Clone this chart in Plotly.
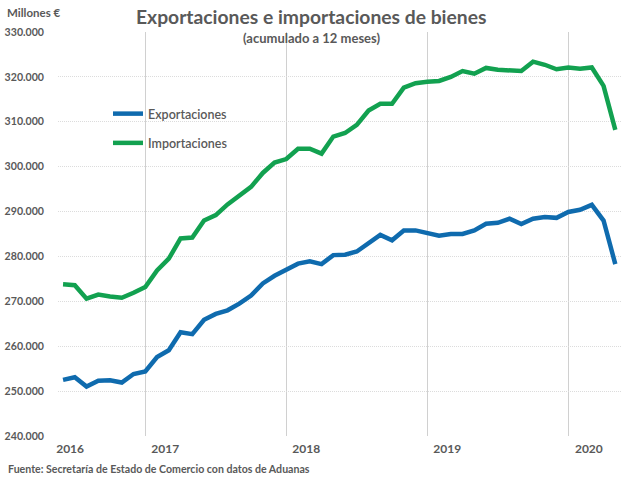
import plotly.graph_objects as go

months = list(range(48))
exportaciones = [252.5,253.1,251.0,252.3,252.4,251.9,253.8,254.4,257.6,259.1,263.1,262.7,265.9,267.2,268.0,269.5,
                 271.3,274.0,275.7,277.0,278.4,278.9,278.3,280.3,280.4,281.1,283.1,284.8,283.6,285.8,285.8,285.1,
                 284.6,285.0,285.0,285.8,287.3,287.5,288.4,287.2,288.4,288.8,288.6,289.9,290.4,291.5,288.0,278.3]
importaciones = [273.8,273.6,270.6,271.5,271.1,270.8,271.9,273.2,276.9,279.5,284.0,284.2,288.0,289.2,291.6,293.7,
                 295.5,298.6,300.9,301.7,304.0,304.0,302.9,306.7,307.5,309.3,312.5,314.0,314.0,317.6,318.6,318.9,
                 319.1,320.0,321.3,320.7,322.0,321.6,321.5,321.3,323.4,322.7,321.7,322.1,321.8,322.1,318.0,308.2]
y_ticks = [240,250,260,270,280,290,300,310,320,330]
y_labels = ["240.000","250.000","260.000","270.000","280.000","290.000","300.000","310.000","320.000","330.000"]
year_pos = [0.6,8.7,20.7,32.7,44.75]
year_labels = ["2016","2017","2018","2019","2020"]
year_bounds = [7,19,31,43]

GRAY = "#595959"
FONT = "Lato"
W, H = 640, 480
L, R, T, B = 58, 622, 32, 436
def px(xp): return (xp-L)/(R-L)
def py(yp): return 1-(yp-T)/(B-T)

fig = go.Figure()
fig.add_trace(go.Scatter(x=months, y=[v*1000 for v in exportaciones], name="Exportaciones", mode="lines",
                         legendgroup="a", line=dict(color="#0F6BAE", width=4.5)))
fig.add_trace(go.Scatter(x=months, y=[v*1000 for v in importaciones], name="Importaciones", mode="lines",
                         legendgroup="b", line=dict(color="#12A150", width=4.5)))

# white boxes behind the title and legend that interrupt the gridlines
shapes = []
for x0, x1, y0, y1 in [(132, 490, 30, 50), (107, 235, 98, 157)]:
    shapes.append(dict(type="rect", xref="paper", yref="paper", layer="between",
                       x0=px(x0), x1=px(x1), y0=py(y1), y1=py(y0), line_width=0, fillcolor="white"))

fig.update_layout(
    width=W, height=H, paper_bgcolor="white", plot_bgcolor="white",
    margin=dict(l=L, r=W-R, t=T, b=H-B),
    font=dict(family=FONT, color=GRAY, size=12),
    shapes=shapes,
    showlegend=True,
    legend=dict(x=px(108), y=py(99), xanchor="left", yanchor="top", bgcolor="rgba(0,0,0,0)",
                tracegroupgap=10, itemwidth=30, font=dict(size=12.5, family=FONT, color=GRAY, weight=600)),
    xaxis=dict(range=[-0.43, 47.57], tickmode="array", tickvals=year_pos, ticktext=year_labels, automargin=False,
               showgrid=False, zeroline=False, showline=False, ticks="", ticklen=0, ticklabelstandoff=4,
               tickfont=dict(size=12, family=FONT, color=GRAY, weight=700),
               minor=dict(tickmode="array", tickvals=year_bounds, showgrid=True, gridcolor="#D0D0D0", gridwidth=1.3, ticks="")),
    yaxis=dict(range=[240000, 330000], tickmode="array", tickvals=[v*1000 for v in y_ticks], ticktext=y_labels, automargin=False,
               showgrid=True, gridcolor="#DCDCDC", gridwidth=1, griddash="1px,1px", zeroline=False, showline=False, ticks="",
               ticklabelstandoff=13,
               tickfont=dict(size=10.6, family=FONT, color=GRAY, weight=700)),
    annotations=[
        dict(text="Exportaciones e importaciones de bienes", xref="paper", yref="paper", x=px(311), y=py(17),
             xanchor="center", yanchor="middle", showarrow=False, font=dict(size=19.3, family=FONT, color=GRAY, weight=700)),
        dict(text="(acumulado a 12 meses)", xref="paper", yref="paper", x=px(311), y=py(38),
             xanchor="center", yanchor="middle", showarrow=False, font=dict(size=13, family=FONT, color=GRAY, weight=700)),
        dict(text="Millones €", xref="paper", yref="paper", x=px(5), y=py(13), xanchor="left", yanchor="middle",
             showarrow=False, font=dict(size=11.5, family=FONT, color=GRAY, weight=700)),
        dict(text="Fuente: Secretaría de Estado de Comercio con datos de Aduanas", xref="paper", yref="paper",
             x=px(6), y=py(469), xanchor="left", yanchor="middle", showarrow=False,
             font=dict(size=10.6, family=FONT, color=GRAY, weight=700)),
    ],
)
fig.write_html("out.html", config={"displayModeBar": False}, post_script="document.body.style.margin='0';")
